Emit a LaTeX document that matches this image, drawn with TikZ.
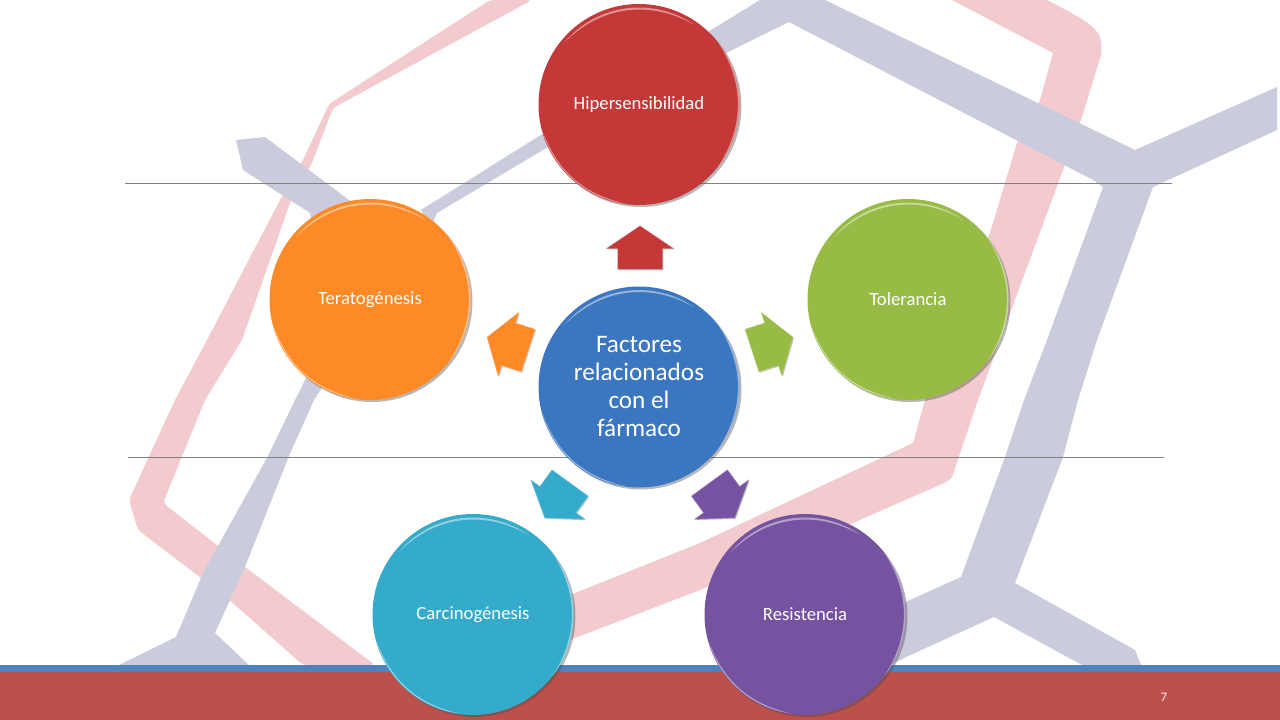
\documentclass[tikz,border=0pt]{standalone}
\usepackage{fontspec}
\setmainfont{Carlito}
\usetikzlibrary{shapes.arrows,shadows}
\definecolor{fcred}{RGB}{196,56,56}
\definecolor{fcorange}{RGB}{253,138,39}
\definecolor{fcgreen}{RGB}{152,187,69}
\definecolor{fcblue}{RGB}{59,118,192}
\definecolor{fcteal}{RGB}{53,171,203}
\definecolor{fcpurple}{RGB}{118,83,160}
\definecolor{bandred}{RGB}{243,203,207}
\definecolor{bandgrey}{RGB}{202,203,220}
\definecolor{barblue}{RGB}{79,129,189}
\definecolor{barred}{RGB}{190,80,75}
\newcommand\rimlight[4]{%
  \coordinate (rima) at ([shift={(#2:#4pt)}]#1.center);
  \pgfmathsetmacro\rimbend{(#3-#2)/2-5}
  \fill[white,opacity=.45] (rima) arc[start angle=#2,end angle=#3,radius=#4pt] to[bend left=\rimbend] (rima) -- cycle;}

\begin{document}
\begin{tikzpicture}[x=1pt,y=-1pt,font=\fontsize{18.7}{22}\selectfont,
bubble/.style={circle,minimum size=201pt,inner sep=0pt,outer sep=0pt,text=white,align=center,fill=#1,drop shadow={shadow xshift=2pt,shadow yshift=-2pt,fill=black!70,opacity=.4}},
pointer/.style={single arrow,anchor=tail,minimum height=43pt,minimum width=66pt,single arrow head extend=11pt,single arrow tip angle=112,inner xsep=0pt,inner ysep=22pt,outer sep=0pt,fill=#1,draw=#1!75!white,line width=.5pt,drop shadow={shadow xshift=1pt,shadow yshift=-1pt,fill=black!60,opacity=.4}},
rulerline/.style={draw=black!50,line width=.8pt}]
\useasboundingbox (0,0) rectangle (1280,720);
% backdrop
\fill[bandred,rounded corners=4pt] (490,0) -- (329,104) -- (303,160) -- (280,200) -- (207,340) -- (175,400) -- (129,500) -- (138,530) -- (226,597) -- (303,665) -- (375,665) -- (245,567) -- (163,503) -- (205,400) -- (242,340) -- (291,200) -- (312,163) -- (333,108) -- (532,0) -- cycle;
\fill[bandred] (952,0) -- (1053,53) -- (1040,100) -- (1017,143) -- (990,233) -- (925,400) -- (913,443) -- (700,543) -- (575,593) -- (470,640) -- (470,670) -- (575,638) -- (700,590) -- (944,483) .. controls (950,480) .. (952,477) -- (978,400) -- (1063,170) -- (1082,117) -- (1101,55) .. controls (1104,30) and (1095,25) .. (1047,0) -- cycle;
\fill[bandgrey] (236,140) -- (265,137) -- (345,197) -- (400,240) -- (340,360) -- (314,400) -- (289,456) -- (245,567) -- (215,633) -- (249,665) -- (119,665) -- (176,637) -- (203,573) -- (268,456) -- (295,400) -- (330,330) -- (310,213) -- (243,170) -- cycle;
\fill[bandgrey] (421,210) -- (544,133) -- (711,30) -- (760,0) -- (825,0) -- (1135,150) -- (1277,87) -- (1277,130) -- (1153,187) -- (1097,340) -- (1078,400) -- (1063,457) -- (1015,583) -- (1135,650) -- (1141,665) -- (1082,665) -- (994,617) -- (906,657) -- (860,680) -- (860,620) -- (910,600) -- (961,577) -- (1005,457) -- (1024,400) -- (1047,340) -- (1103,187) -- (1093,180) -- (789,22) -- (732,50) -- (548,147) -- (437,213) -- (430,230) -- cycle;
\fill[barblue] (0,665) rectangle (1280,672);
\fill[barred] (0,672) rectangle (1280,720);
\node[text=white!92!barred,font=\fontsize{13}{15}\selectfont] (pagenum) at (1164,697.5) {7};
\coordinate (upleft) at (125,183);
\coordinate (upright) at (1172,183);
\coordinate (lowleft) at (128,457);
\coordinate (lowright) at (1164,457);
\draw[rulerline] (upleft) -- (upright);
\draw[rulerline] (lowleft) -- (lowright);
% circles
\node[bubble=fcred] (hiper) at (639,104.5) {Hipersensibilidad};
\node[bubble=fcorange] (terato) at (370,299.5) {Teratogénesis};
\node[bubble=fcgreen] (toler) at (908,299.5) {Tolerancia};
\node[bubble=fcteal] (carcino) at (473,614.5) {Carcinogénesis};
\node[bubble=fcpurple] (resist) at (805,614.5) {Resistencia};
\node[bubble=fcblue,font=\fontsize{25.2}{28}\selectfont] (factores) at (639,387) {Factores\\relacionados\\con el\\fármaco};
% arrows
\node[pointer=fcred,rotate=90] (arrhiper) at (640,269) {};
\node[pointer=fcgreen,rotate=18] (arrtoler) at (752,350.5) {};
\node[pointer=fcorange,rotate=162] (arrterato) at (528,350.5) {};
\node[pointer=fcteal,rotate=-126] (arrcarcino) at (570,483) {};
\node[pointer=fcpurple,rotate=-54] (arrresist) at (709.5,483) {};
% highlights
\foreach \bname in {hiper,terato,toler,carcino,resist,factores}{
  \rimlight{\bname}{55}{140}{97}
  \rimlight{\bname}{195}{262}{100}
  \rimlight{\bname}{-38}{38}{100.5}
}
\end{tikzpicture}
\end{document}
